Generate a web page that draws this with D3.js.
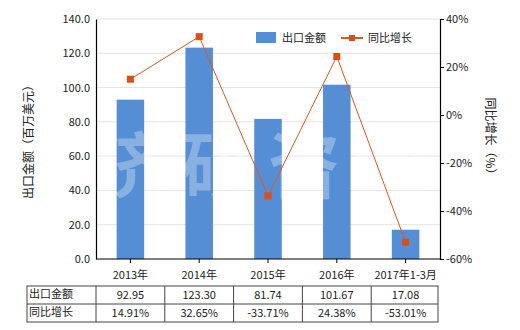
<!DOCTYPE html>
<html>
<head>
<meta charset="utf-8">
<script src="https://cdn.jsdelivr.net/npm/d3@7"></script>
<style>
body { margin: 0; background: #fff; }
text { font-family: "Noto Sans CJK SC", "DejaVu Sans", sans-serif; fill: #222; }
</style>
</head>
<body>
<svg width="520" height="330"></svg>
<script>
var categories = ["2013年", "2014年", "2015年", "2016年", "2017年1-3月"];
var exportValues = [92.95, 123.30, 81.74, 101.67, 17.08];
var growthValues = [14.91, 32.65, -33.71, 24.38, -53.01];
var leftTicks = [0, 20, 40, 60, 80, 100, 120, 140];
var rightTicks = [-60, -40, -20, 0, 20, 40];

var svg = d3.select("svg"),
    pLeft = 96, pRight = 440, pTop = 19, pBottom = 259;

var x = d3.scaleBand().domain(categories).range([pLeft, pRight]).paddingInner(0.6).paddingOuter(0.3),
    y = d3.scaleLinear().domain([0, 140]).range([pBottom, pTop]),
    y2 = d3.scaleLinear().domain([-60, 40]).range([pBottom, pTop]);

// grid
svg.append("g").selectAll("line")
    .data(leftTicks.slice(1))
    .enter().append("line")
    .attr("x1", pLeft).attr("x2", pRight)
    .attr("y1", d => y(d)).attr("y2", d => y(d))
    .attr("stroke", "#e4e4e4");

// bars
svg.append("g").selectAll("rect")
    .data(exportValues)
    .enter().append("rect")
    .attr("x", (d, i) => x(categories[i]))
    .attr("width", x.bandwidth())
    .attr("y", d => y(d))
    .attr("height", d => pBottom - y(d))
    .attr("fill", "#558ed5");

// watermark
svg.append("text")
    .attr("x", 268).attr("y", 192)
    .attr("text-anchor", "middle")
    .style("font-size", "72px")
    .style("font-weight", "bold")
    .style("letter-spacing", "14px")
    .style("fill", "#ffffff")
    .style("opacity", 0.3)
    .text("济研咨询");

// line
var cx = (d, i) => x(categories[i]) + x.bandwidth() / 2;
svg.append("path")
    .datum(growthValues)
    .attr("fill", "none")
    .attr("stroke", "#e0581c")
    .attr("stroke-width", 1)
    .attr("d", d3.line().x(cx).y(d => y2(d)));

svg.append("g").selectAll("rect")
    .data(growthValues)
    .enter().append("rect")
    .attr("x", (d, i) => cx(d, i) - 3.5)
    .attr("y", d => y2(d) - 3.5)
    .attr("width", 7).attr("height", 7)
    .attr("fill", "#dd4f10");

// axes
var la = svg.append("g").attr("transform", `translate(${pLeft},0)`)
    .call(d3.axisLeft(y).tickValues(leftTicks).tickSize(0).tickPadding(6).tickFormat(d3.format(".1f")));
var ra = svg.append("g").attr("transform", `translate(${pRight},0)`)
    .call(d3.axisRight(y2).tickValues(rightTicks).tickSize(4).tickPadding(2).tickFormat(d => d + "%"));
var ba = svg.append("g").attr("transform", `translate(0,${pBottom})`)
    .call(d3.axisBottom(x).tickSize(4).tickPadding(8));
[la, ra, ba].forEach(function(g){
    g.select(".domain").attr("stroke", "#000").attr("stroke-width", 1.2);
    g.selectAll(".tick line").attr("stroke", "#000");
    g.selectAll("text").style("font-size", "11px").style("font-family", "'Noto Sans CJK SC', sans-serif").attr("fill", "#222");
});
ba.select(".domain").attr("d", `M${pLeft},0H${pRight}`);

// axis titles
svg.append("text")
    .attr("transform", `translate(33,${(pTop + pBottom) / 2}) rotate(-90)`)
    .attr("text-anchor", "middle")
    .style("font-size", "12px")
    .text("出口金额（百万美元）");
svg.append("text")
    .attr("transform", `translate(486,${(pTop + pBottom) / 2}) rotate(90)`)
    .attr("text-anchor", "middle")
    .style("font-size", "12px")
    .text("同比增长（%）");

// legend
var lg = svg.append("g").attr("transform", "translate(0,38)");
lg.append("rect").attr("x", 256).attr("y", -6).attr("width", 20).attr("height", 11).attr("fill", "#558ed5");
lg.append("text").attr("x", 282).attr("y", 4).style("font-size", "11px").text("出口金额");
lg.append("line").attr("x1", 341).attr("x2", 363).attr("y1", 0).attr("y2", 0).attr("stroke", "#e0581c").attr("stroke-width", 2);
lg.append("rect").attr("x", 349).attr("y", -3).attr("width", 6).attr("height", 6).attr("fill", "#dd4f10");
lg.append("text").attr("x", 368).attr("y", 4).style("font-size", "11px").text("同比增长");

// table
var tTop = 286, rowH = 18, tLeft = 27, colW = (pRight - pLeft) / categories.length;
var rows = [
    { name: "出口金额", vals: exportValues.map(d => d.toFixed(2)) },
    { name: "同比增长", vals: growthValues.map(d => d.toFixed(2) + "%") }
];
var tb = svg.append("g");
tb.append("rect").attr("x", tLeft).attr("y", tTop).attr("width", pRight - 2 - tLeft).attr("height", rowH * 2)
    .attr("fill", "none").attr("stroke", "#444");
tb.append("line").attr("x1", tLeft).attr("x2", pRight - 2).attr("y1", tTop + rowH).attr("y2", tTop + rowH).attr("stroke", "#444");
categories.forEach(function(c, i){
    var xx = pLeft + i * colW;
    tb.append("line").attr("x1", xx).attr("x2", xx).attr("y1", tTop).attr("y2", tTop + rowH * 2).attr("stroke", "#444");
});
rows.forEach(function(r, j){
    var yy = tTop + j * rowH + 13;
    tb.append("text").attr("x", tLeft + 2).attr("y", yy - 1).style("font-size", "11px").text(r.name);
    r.vals.forEach(function(v, i){
        tb.append("text").attr("x", x(categories[i]) + x.bandwidth() / 2).attr("y", yy)
            .attr("text-anchor", "middle").style("font-size", "11px").text(v);
    });
});
</script>
</body>
</html>
